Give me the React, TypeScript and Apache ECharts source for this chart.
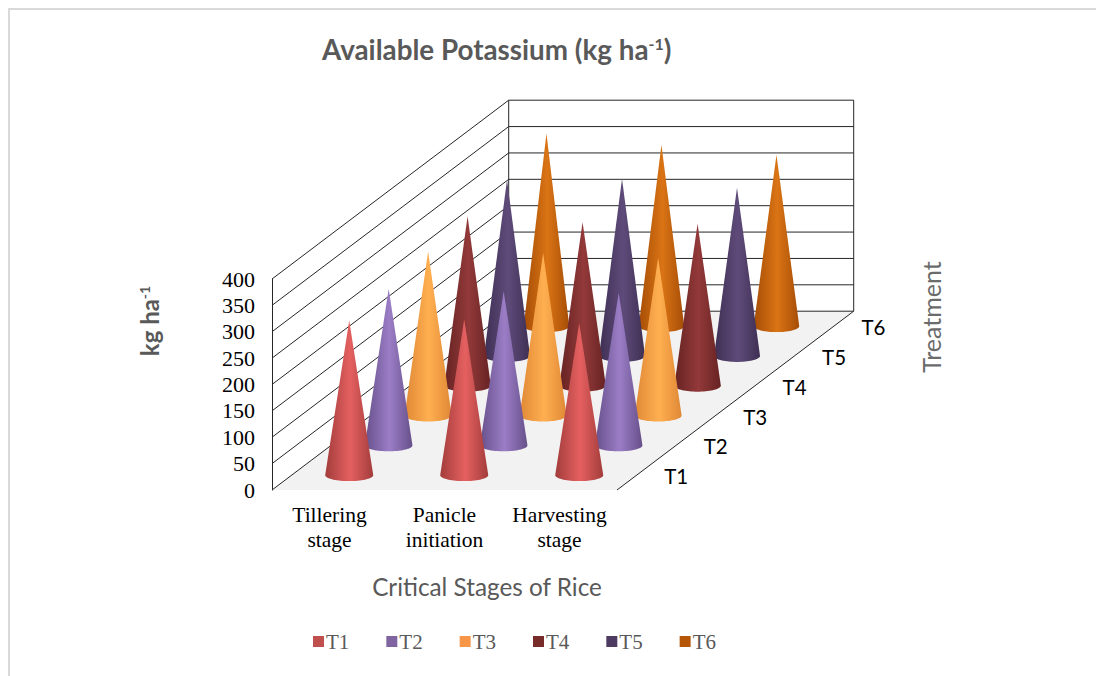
import React, { useEffect, useRef } from "react";
import * as echarts from "echarts";

const categories = ["Tillering\nstage", "Panicle\ninitiation", "Harvesting\nstage"];
const treatments = ["T1", "T2", "T3", "T4", "T5", "T6"];
const yTicks = [0, 50, 100, 150, 200, 250, 300, 350, 400];
const T1 = [293, 295, 288];
const T2 = [297, 292, 289];
const T3 = [311, 308, 299];
const T4 = [321, 310, 307];
const T5 = [334, 336, 319];
const T6 = [365, 344, 325];
const seriesValues = [T1, T2, T3, T4, T5, T6];
const baseColors = ["#C0504D", "#8064A2", "#F79646", "#772C2A", "#4D3B62", "#B65708"];
const edgeColors = ["#a23d3b", "#67508a", "#df8836", "#662322", "#3e2f53", "#a54d06"];
const lightColors = ["#e56060", "#9b7dc6", "#ffaf50", "#93393a", "#5f4b7a", "#da7415"];

const DEPTH_X = 39.45;
const DEPTH_Y = 29.8;
const LINE = "#262626";
const GREY = "#595959";
const SERIF = '"Liberation Serif", serif';
const SANS = "Lato, sans-serif";

function coneItem(t: number) {
  return (params: any, api: any) => {
    const cat = api.value(0);
    const top = api.coord([cat, api.value(1)]);
    const base = api.coord([cat, 0]);
    const shiftX = DEPTH_X * (t + 0.5);
    const shiftY = DEPTH_Y * (t + 0.5);
    const cx = base[0] + shiftX;
    const cy = base[1] - shiftY;
    const apexY = top[1] - shiftY;
    const a = 24 - 0.25 * t;
    const b = 6;
    const t0 = Math.asin(-b / (cy - apexY));
    const pts: number[][] = [[cx, apexY]];
    const steps = 36;
    for (let i = 0; i <= steps; i++) {
      const ang = t0 + ((Math.PI - 2 * t0) * i) / steps;
      pts.push([cx + a * Math.cos(ang), cy + b * Math.sin(ang)]);
    }
    return {
      type: "polygon",
      shape: { points: pts },
      style: {
        fill: new echarts.graphic.LinearGradient(0, 0, 1, 0, [
          { offset: 0, color: edgeColors[t] },
          { offset: 0.52, color: lightColors[t] },
          { offset: 1, color: edgeColors[t] },
        ]),
      },
    };
  };
}

function wallItem(params: any, api: any) {
  const v = api.value(0);
  const band = api.size([1, 0])[0];
  const p = api.coord([0, v]);
  const left = p[0] - band / 2;
  const y = p[1];
  const dx = DEPTH_X * treatments.length;
  const dy = DEPTH_Y * treatments.length;
  const children: any[] = [];
  const st = { stroke: LINE, lineWidth: 1 };
  if (v === 0) {
    children.push({
      type: "polygon",
      shape: { points: [[left, y], [left + band * 3, y], [left + band * 3 + dx, y - dy], [left + dx, y - dy]] },
      style: { fill: "#f2f2f2" },
    });
    children.push({
      type: "line",
      shape: { x1: left + band * 3, y1: y, x2: left + band * 3 + dx, y2: y - dy },
      style: st,
    });
  }
  if (v === 400) {
    const zero = api.coord([0, 0])[1];
    children.push({ type: "line", shape: { x1: left + dx, y1: y - dy, x2: left + dx, y2: zero - dy }, style: st });
    children.push({
      type: "line",
      shape: { x1: left + band * 3 + dx, y1: y - dy, x2: left + band * 3 + dx, y2: zero - dy },
      style: st,
    });
  }
  children.push({ type: "line", shape: { x1: left, y1: y, x2: left + dx, y2: y - dy }, style: st });
  children.push({ type: "line", shape: { x1: left + dx, y1: y - dy, x2: left + band * 3 + dx, y2: y - dy }, style: st });
  return { type: "group", children };
}

function depthLabelItem(params: any, api: any) {
  const t = params.dataIndex;
  const band = api.size([1, 0])[0];
  const p = api.coord([2, 0]);
  return {
    type: "text",
    x: p[0] + band / 2 + DEPTH_X * (t + 0.5) + 39.5,
    y: p[1] - DEPTH_Y * (t + 0.5) + 1,
    style: {
      text: treatments[t],
      fill: "#000",
      font: `20.5px ${SANS}`,
      align: "center",
      verticalAlign: "middle",
    },
  };
}

export default function App() {
  const ref = useRef<HTMLDivElement>(null);
  useEffect(() => {
    const chart = echarts.init(ref.current!, null, { renderer: "svg" });
    chart.setOption({
      animation: false,
      backgroundColor: "#fff",
      title: {
        text: "{m|Available Potassium (kg ha}{s|-1}{m|)}",
        left: 317,
        top: 30,
        textStyle: {
          rich: {
            m: { fontFamily: SANS, fontSize: 27.8, fontWeight: "bold", color: GREY },
            s: { fontFamily: SANS, fontSize: 16, fontWeight: "bold", color: GREY, verticalAlign: "top", padding: [0, 0, 8, 0] },
          },
        },
      },
      legend: {
        data: treatments,
        left: 313,
        top: 631,
        padding: 0,
        icon: "rect",
        itemWidth: 11,
        itemHeight: 11,
        itemGap: 37,
        textStyle: { fontFamily: SERIF, fontSize: 21, color: GREY, padding: [0, 0, 0, -3] },
        selectedMode: false,
      },
      grid: { left: 272, top: 279, width: 345, height: 211 },
      xAxis: {
        type: "category",
        data: categories,
        axisLine: { show: false },
        axisTick: { show: false },
        axisLabel: { interval: 0, fontFamily: SERIF, fontSize: 21.5, color: "#000", lineHeight: 25.5, margin: 12 },
      },
      yAxis: {
        type: "value",
        min: 0,
        max: 400,
        interval: 50,
        splitLine: { show: false },
        axisTick: { show: false },
        axisLine: { show: true, lineStyle: { color: LINE, width: 1 } },
        axisLabel: { fontFamily: SERIF, fontSize: 22, color: "#000", margin: 17 },
      },
      graphic: [
        { type: "line", shape: { x1: 9, y1: 8, x2: 9, y2: 676 }, style: { stroke: "#d9d9d9", lineWidth: 2 }, silent: true },
        { type: "line", shape: { x1: 8, y1: 9, x2: 1096, y2: 9 }, style: { stroke: "#d9d9d9", lineWidth: 2 }, silent: true },
        {
          type: "text",
          x: 149,
          y: 321,
          rotation: Math.PI / 2,
          style: {
            text: "{m|kg ha}{s|-1}",
            align: "center",
            verticalAlign: "middle",
            rich: {
              m: { fontFamily: SANS, fontSize: 24, fontWeight: "bold", fill: GREY, color: GREY },
              s: { fontFamily: SANS, fontSize: 14, fontWeight: "bold", fill: GREY, color: GREY, verticalAlign: "top" },
            },
          },
        },
        {
          type: "text",
          x: 487,
          y: 586,
          style: { text: "Critical Stages of Rice", font: `24.3px ${SANS}`, fill: GREY, align: "center", verticalAlign: "middle" },
        },
        {
          type: "text",
          x: 931,
          y: 317,
          rotation: Math.PI / 2,
          style: { text: "Treatment", font: `25px ${SANS}`, fill: "#6b6b6b", align: "center", verticalAlign: "middle" },
        },
      ],
      series: [
        {
          type: "custom",
          name: "walls",
          z: 1,
          renderItem: wallItem,
          data: yTicks.map((v) => [v]),
          encode: { x: -1, y: 0 },
          silent: true,
        },
        {
          type: "custom",
          name: "depthLabels",
          z: 1,
          renderItem: depthLabelItem,
          data: treatments.map((_, i) => [i]),
          encode: { x: -1, y: -1 },
          silent: true,
        },
        ...treatments.map((name, t) => ({
          type: "custom",
          name,
          z: 20 - t,
          itemStyle: { color: baseColors[t] },
          renderItem: coneItem(t),
          data: seriesValues[t].map((v, c) => [c, v]),
          encode: { x: 0, y: 1 },
          silent: true,
        })),
      ],
    });
    return () => chart.dispose();
  }, []);
  return <div ref={ref} style={{ position: "absolute", left: 0, top: 0, width: 1096, height: 676 }} />;
}
